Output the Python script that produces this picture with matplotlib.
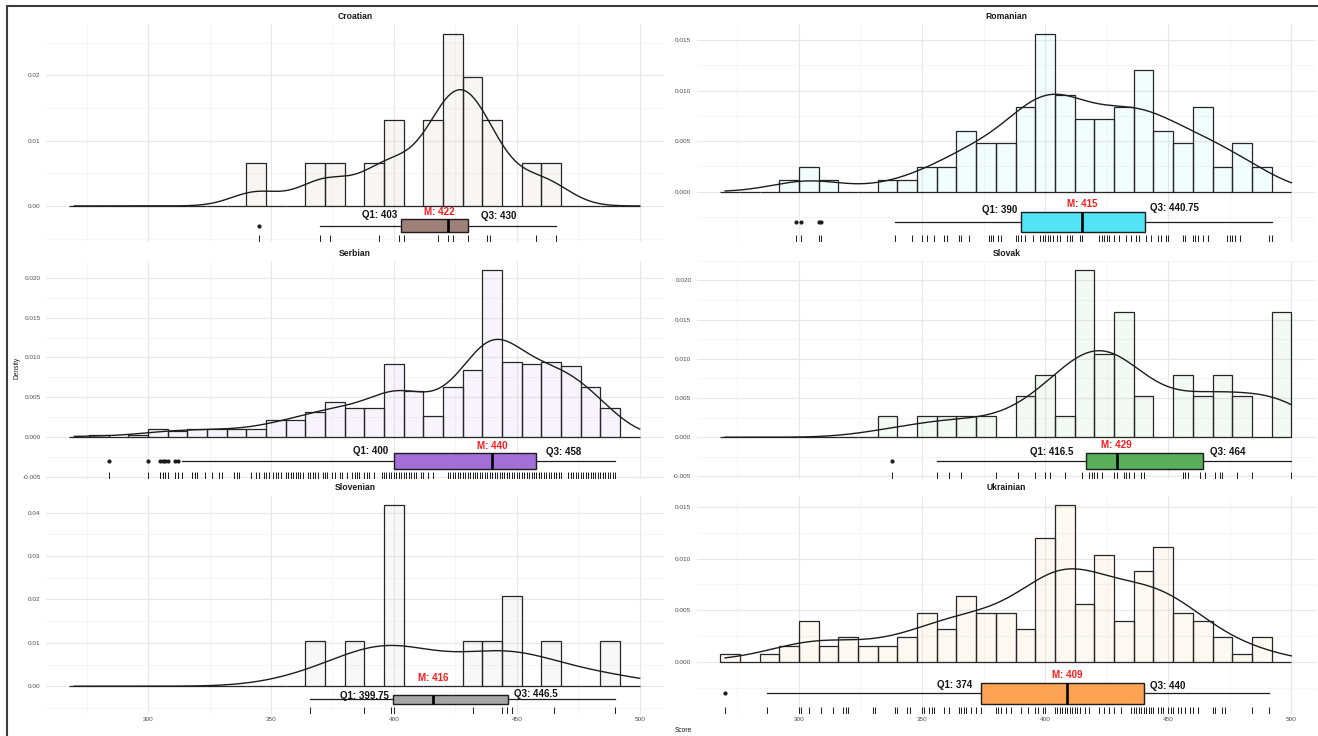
"""Score distributions per language: histogram, density curve, boxplot and rug."""

import matplotlib
import numpy as np

matplotlib.use("Agg")
import matplotlib.pyplot as plt
from matplotlib.patches import Rectangle
from matplotlib.ticker import FuncFormatter, MultipleLocator
from matplotlib.transforms import blended_transform_factory

# Histogram bins shared by all panels (right-closed, width 8, starting at 268)
BIN_START = 268
BIN_WIDTH = 8

LANGUAGES = ["Croatian", "Romanian", "Serbian", "Slovak", "Slovenian", "Ukrainian"]

# Counts per bin (29 bins: 268-276 ... 492-500)
croatian_counts = [0, 0, 0, 0, 0, 0, 0, 0, 0, 1, 0, 0, 1, 1, 0, 1, 2, 0, 2, 4,
                   3, 2, 0, 1, 1, 0, 0, 0, 0]
romanian_counts = [0, 0, 0, 1, 2, 1, 0, 0, 1, 1, 2, 2, 5, 4, 4, 7, 13, 8, 6, 6,
                   7, 10, 5, 4, 7, 2, 4, 2, 0]
serbian_counts = [0, 1, 0, 1, 4, 3, 4, 4, 4, 4, 9, 9, 13, 18, 15, 15, 38, 24, 11, 26,
                  35, 87, 39, 38, 39, 37, 26, 15, 0]
slovak_counts = [0, 0, 0, 0, 0, 0, 0, 0, 1, 0, 1, 1, 1, 1, 0, 2, 3, 1, 8, 4,
                 6, 2, 0, 3, 2, 3, 2, 0, 6]
slovenian_counts = [0, 0, 0, 0, 0, 0, 0, 0, 0, 0, 0, 0, 1, 0, 1, 0, 4, 0, 0, 0,
                    1, 1, 2, 0, 1, 0, 0, 1, 0]
ukrainian_counts = [1, 0, 1, 2, 5, 2, 3, 2, 2, 3, 6, 4, 8, 6, 6, 4, 15, 19, 7, 13,
                    5, 11, 14, 6, 5, 3, 1, 3, 0]

# Distinct scores observed (rug)
croatian_scores = [345, 370, 374, 394, 402, 404, 418, 422, 424, 430, 438, 439, 458, 466]
romanian_scores = [299, 301, 308, 309, 339, 346, 350, 352, 355, 359, 360, 365, 366, 369,
                   377, 378, 379, 381, 382, 388, 389, 390, 392, 395, 398, 399, 400, 401,
                   402, 403, 405, 406, 409, 410, 411, 414, 415, 422, 423, 424, 425, 426,
                   428, 430, 433, 435, 437, 438, 441, 443, 446, 447, 449, 450, 456, 457,
                   460, 461, 462, 464, 466, 474, 475, 476, 477, 479, 491, 492]
serbian_scores = [284, 300, 305, 306, 307, 308, 311, 312, 314, 318, 319, 320, 323, 326,
                  329, 330, 335, 336, 337, 342, 344, 345, 347, 348, 349, 351, 352, 353,
                  354, 356, 357, 358, 359, 360, 361, 362, 363, 365, 366, 367, 368, 369,
                  371, 372, 373, 375, 376, 378, 379, 381, 383, 384, 385, 386, 388, 389,
                  390, 392, 395, 396, 397, 398, 399, 400, 401, 402, 403, 404, 405, 406,
                  407, 408, 409, 411, 412, 414, 416, 422, 423, 424, 425, 426, 427, 428,
                  429, 430, 431, 432, 433, 434, 435, 436, 437, 438, 439, 440, 441, 442,
                  443, 444, 445, 446, 447, 448, 449, 450, 451, 452, 453, 454, 455, 456,
                  457, 458, 459, 460, 461, 462, 463, 464, 465, 466, 467, 468, 471, 472,
                  473, 474, 475, 476, 477, 478, 479, 480, 481, 482, 483, 484, 485, 486,
                  487, 488, 489, 490]
slovak_scores = [338, 356, 361, 366, 380, 389, 396, 400, 402, 408, 415, 418, 419, 420,
                 421, 423, 428, 429, 432, 433, 434, 436, 439, 440, 456, 457, 458, 463,
                 465, 469, 471, 472, 478, 484, 500]
slovenian_scores = [366, 388, 399, 400, 432, 444, 446, 448, 465, 490]
ukrainian_scores = [270, 287, 300, 301, 304, 309, 314, 318, 319, 320, 330, 331, 339, 340,
                    344, 345, 350, 351, 353, 354, 355, 359, 361, 365, 366, 367, 368, 370,
                    372, 374, 380, 381, 382, 384, 386, 390, 393, 396, 397, 399, 400, 404,
                    405, 406, 407, 408, 409, 410, 411, 412, 413, 414, 416, 418, 422, 424,
                    426, 428, 431, 435, 436, 437, 438, 439, 440, 441, 442, 443, 444, 446,
                    447, 448, 450, 451, 452, 454, 455, 457, 459, 460, 462, 468, 469, 472,
                    473, 484, 491]

# Quartiles (Q1, median, Q3)
croatian_quartiles = [403, 422, 430]
romanian_quartiles = [390, 415, 440.75]
serbian_quartiles = [400, 440, 458]
slovak_quartiles = [416.5, 429, 464]
slovenian_quartiles = [399.75, 416, 446.5]
ukrainian_quartiles = [374, 409, 440]

COUNTS = dict(zip(LANGUAGES, [croatian_counts, romanian_counts, serbian_counts,
                              slovak_counts, slovenian_counts, ukrainian_counts]))
SCORES = dict(zip(LANGUAGES, [croatian_scores, romanian_scores, serbian_scores,
                              slovak_scores, slovenian_scores, ukrainian_scores]))
QUARTILES = dict(zip(LANGUAGES, [croatian_quartiles, romanian_quartiles, serbian_quartiles,
                                 slovak_quartiles, slovenian_quartiles, ukrainian_quartiles]))

BOX_COLORS = {
    "Croatian": "#a0817a",
    "Romanian": "#52e3f4",
    "Serbian": "#a56fd8",
    "Slovak": "#5baf5b",
    "Slovenian": "#a6a6a6",
    "Ukrainian": "#fca453",
}

# Per-panel tick spacing and annotation placement
PANEL_STYLE = {
    "Croatian": dict(ystep=0.01, q1_gap=1.5, q3_gap=5.3, m_dx=-3.5,
                     y_q1=-0.0014, y_q3=-0.0015, y_m=-0.0010),
    "Romanian": dict(ystep=0.005, q1_gap=1.5, q3_gap=2.0, m_dx=0.0,
                     y_q1=-0.0018, y_q3=-0.0016, y_m=-0.0012),
    "Serbian": dict(ystep=0.005, q1_gap=2.4, q3_gap=3.7, m_dx=0.0,
                    y_q1=-0.0018, y_q3=-0.0019, y_m=-0.00115),
    "Slovak": dict(ystep=0.005, q1_gap=5.0, q3_gap=3.0, m_dx=0.0,
                   y_q1=-0.0019, y_q3=-0.0019, y_m=-0.0010),
    "Slovenian": dict(ystep=0.01, q1_gap=1.6, q3_gap=2.5, m_dx=0.0,
                      y_q1=-0.0022, y_q3=-0.0019, y_m=0.0018),
    "Ukrainian": dict(ystep=0.005, q1_gap=3.6, q3_gap=2.7, m_dx=0.0,
                      y_q1=-0.00225, y_q3=-0.00234, y_m=-0.0012),
}

FIG_W, FIG_H = 1318, 736
COL_PX = [(46.3, 664.0), (697.0, 1315.7)]
ROW_PX = [(24.0, 242.0), (260.5, 478.5), (495.5, 713.5)]
XLIM = (258.6, 509.9)
BOX_Y = -0.003
BOX_H = 0.002
FONT = "Liberation Sans"
INK = "#1c1c1c"
GRID_MAJOR = "#e8e8e8"
GRID_MINOR = "#f2f2f2"


def gaussian_density(grid, centers, counts, iqr):
    """Gaussian KDE on binned scores, bandwidth from the nrd0 rule."""
    n = counts.sum()
    mean = (centers * counts).sum() / n
    sd = np.sqrt(((centers - mean) ** 2 * counts).sum() / (n - 1))
    bw = 0.9 * min(sd, iqr / 1.34) * n ** -0.2
    z = (grid[:, None] - centers[None, :]) / bw
    return (np.exp(-0.5 * z ** 2) * counts).sum(axis=1) / (n * bw * np.sqrt(2 * np.pi))


def box_stats(scores, quartiles):
    """Tukey whiskers and outliers from the observed scores."""
    q1, med, q3 = quartiles
    iqr = q3 - q1
    lo, hi = q1 - 1.5 * iqr, q3 + 1.5 * iqr
    scores = np.asarray(scores, dtype=float)
    inside = scores[(scores >= lo) & (scores <= hi)]
    return dict(med=med, q1=q1, q3=q3, whislo=inside.min(), whishi=inside.max(),
                fliers=scores[(scores < lo) | (scores > hi)])


def draw_panel(ax, name, grid, show_x):
    counts = np.asarray(COUNTS[name], dtype=float)
    n = counts.sum()
    edges = BIN_START + BIN_WIDTH * np.arange(len(counts))
    centers = edges + BIN_WIDTH / 2
    heights = counts / (n * BIN_WIDTH)
    color = BOX_COLORS[name]
    style = PANEL_STYLE[name]
    q1, med, q3 = QUARTILES[name]

    ax.bar(edges, heights, width=BIN_WIDTH, align="edge",
           color=matplotlib.colors.to_rgba(color, 0.07),
           edgecolor="#262626", linewidth=0.9, zorder=2)

    dens = gaussian_density(grid, centers, counts, q3 - q1)
    ax.plot(grid, dens, color=INK, linewidth=1.0, zorder=3)

    ax.bxp([box_stats(SCORES[name], QUARTILES[name])], positions=[BOX_Y],
           widths=BOX_H, orientation="horizontal", showcaps=False, patch_artist=True,
           boxprops=dict(facecolor=color, edgecolor=INK, linewidth=1.0),
           whiskerprops=dict(color=INK, linewidth=0.9),
           medianprops=dict(color="black", linewidth=1.9),
           flierprops=dict(marker="o", markersize=2.0, markerfacecolor=INK,
                           markeredgecolor=INK),
           manage_ticks=False, zorder=4)

    rug_tf = blended_transform_factory(ax.transData, ax.transAxes)
    ax.vlines(SCORES[name], 0, 0.03, transform=rug_tf, color=INK,
              linewidth=0.7, zorder=3)

    text_kw = dict(fontsize=7, fontweight="bold", family=FONT, va="center", zorder=5)
    ax.text(q1 - style["q1_gap"], style["y_q1"], f"Q1: {q1:g}", ha="right",
            color="#111111", **text_kw)
    ax.text(q3 + style["q3_gap"], style["y_q3"], f"Q3: {q3:g}", ha="left",
            color="#111111", **text_kw)
    ax.text(med + style["m_dx"], style["y_m"], f"M: {med:g}", ha="center",
            color="#ff1a1a", **text_kw)

    lo = -0.004
    hi = heights.max()
    span = hi - lo
    ax.set_xlim(*XLIM)
    ax.set_ylim(lo - 0.05 * span, hi + 0.05 * span)

    ax.xaxis.set_major_locator(MultipleLocator(50))
    ax.xaxis.set_minor_locator(MultipleLocator(25))
    ax.yaxis.set_major_locator(MultipleLocator(style["ystep"]))
    ax.yaxis.set_minor_locator(MultipleLocator(style["ystep"] / 2))
    decimals = 2 if style["ystep"] >= 0.01 else 3
    ax.yaxis.set_major_formatter(
        FuncFormatter(lambda v, _: f"{round(v, 6) + 0.0:.{decimals}f}"))

    ax.grid(which="major", color=GRID_MAJOR, linewidth=0.9, zorder=0)
    ax.grid(which="minor", color=GRID_MINOR, linewidth=0.5, zorder=0)
    ax.set_axisbelow(True)
    for spine in ax.spines.values():
        spine.set_visible(False)
    ax.tick_params(which="both", length=0, labelsize=4.6, labelcolor="#4d4d4d", pad=4)
    ax.tick_params(axis="x", pad=2.5)
    if not show_x:
        ax.tick_params(axis="x", labelbottom=False)
    for label in ax.get_xticklabels() + ax.get_yticklabels():
        label.set_family(FONT)

    ax.annotate(name, xy=(0.5, 1.0), xycoords="axes fraction", xytext=(0, 5.4),
                textcoords="offset points", ha="center", va="center",
                fontsize=6.2, fontweight="bold", family=FONT, color="#1a1a1a")


def main() -> None:
    plt.rcParams["font.family"] = [FONT, "DejaVu Sans"]
    fig = plt.figure(figsize=(FIG_W / 100, FIG_H / 100), dpi=100)

    all_scores = np.concatenate([np.asarray(v, dtype=float) for v in SCORES.values()])
    grid = np.linspace(all_scores.min(), all_scores.max(), 512)

    for i, name in enumerate(LANGUAGES):
        row, col = divmod(i, 2)
        x0, x1 = COL_PX[col]
        y0, y1 = ROW_PX[row]
        ax = fig.add_axes([x0 / FIG_W, 1 - y1 / FIG_H, (x1 - x0) / FIG_W, (y1 - y0) / FIG_H])
        draw_panel(ax, name, grid, show_x=(row == 2))

    fig.text(16.8 / FIG_W, 1 - 368 / FIG_H, "Density", rotation=90, ha="center",
             va="center", fontsize=4.8, color="#1a1a1a")
    fig.text(683 / FIG_W, 1 - 730 / FIG_H, "Score", ha="center", va="center",
             fontsize=4.8, color="#1a1a1a")

    # Outer frame
    fig.patches.append(Rectangle((7 / FIG_W, -0.05), 1.1, 1 - 6 / FIG_H + 0.05,
                                 transform=fig.transFigure, fill=False,
                                 edgecolor="#3c3c3c", linewidth=1.5))

    fig.savefig("out.png", dpi=100)
    plt.close(fig)


if __name__ == "__main__":
    main()
